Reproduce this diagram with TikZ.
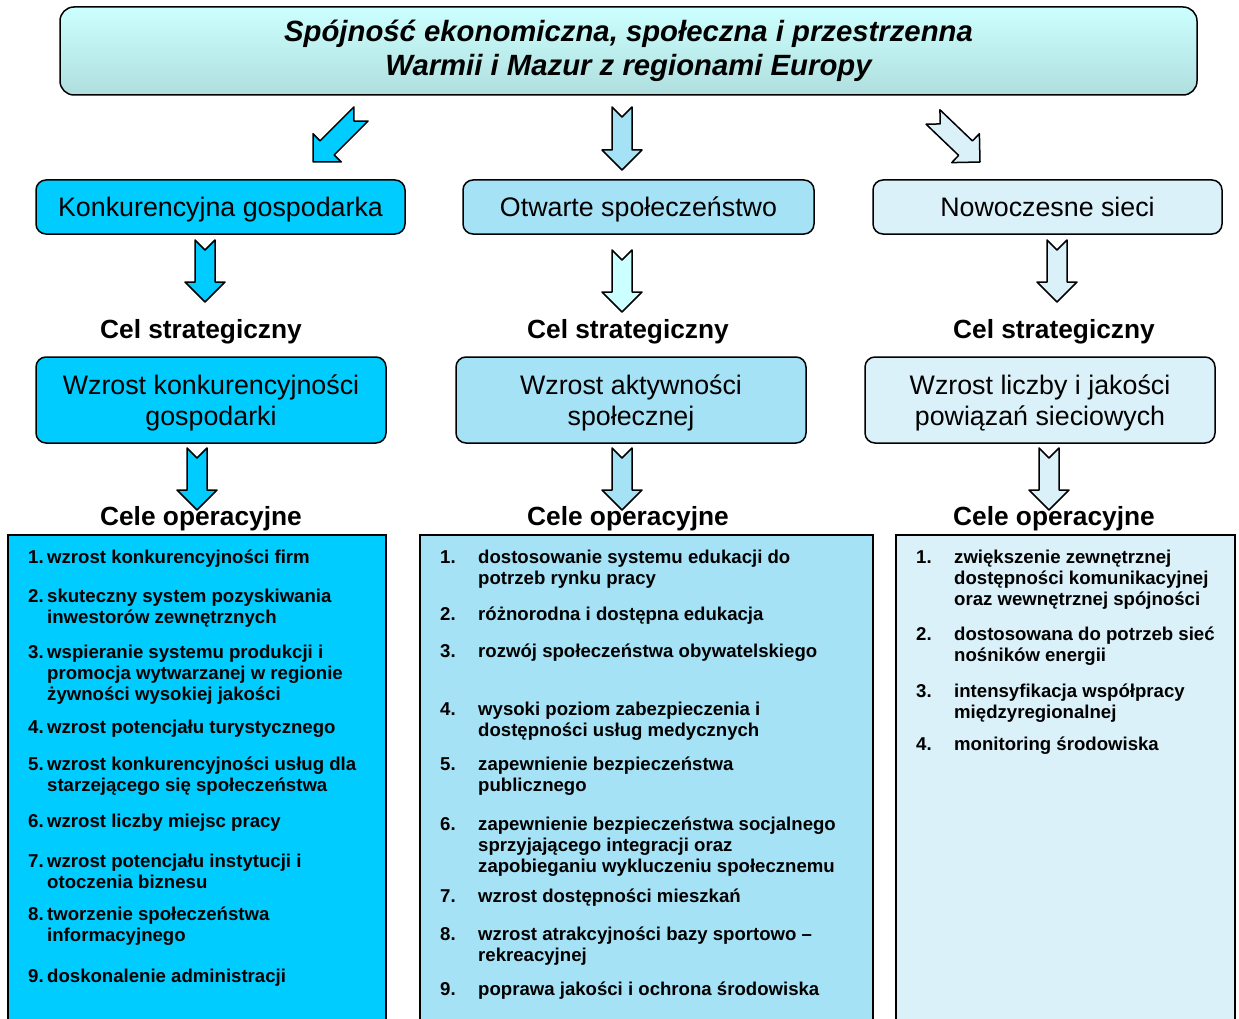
\documentclass[tikz,border=0pt]{standalone}
\usepackage{fontspec}
\setmainfont{Liberation Sans}
\usetikzlibrary{calc}
\definecolor{wmCyan}{RGB}{0, 204, 255}
\definecolor{wmMid}{RGB}{165, 226, 246}
\definecolor{wmLight}{RGB}{218, 241, 249}
\definecolor{wmPale}{RGB}{204, 255, 255}
\definecolor{wmTop}{RGB}{204, 255, 255}
\definecolor{wmBottom}{RGB}{176, 222, 222}
% block arrow: fill, tail coordinate, tip coordinate
\newcommand{\blockarrow}[3]{%
  \coordinate (ba-h) at ($(#3)!20pt!(#2)$);
  \coordinate (ba-n) at ($(#2)!10pt!(#3)$);
  \draw[blockarr, fill=#1] ($(#2)!10pt!90:(#3)$) -- ($(ba-h)!10pt!90:(#3)$)
    -- ($(ba-h)!20pt!90:(#3)$) -- (#3) -- ($(ba-h)!20pt!-90:(#3)$)
    -- ($(ba-h)!10pt!-90:(#3)$) -- ($(#2)!10pt!-90:(#3)$) -- (ba-n) -- cycle;
}
\tikzset{
    base/.style={
        font=\fontsize{26.8}{31}\selectfont,
        align=center,
        inner sep=0pt
    },
    headbox/.style={
        base,
        rectangle,
        rounded corners=14pt,
        draw=black,
        line width=1.5pt,
        top color=wmTop,
        bottom color=wmBottom,
        font=\fontsize{29.3}{34}\selectfont\bfseries\itshape
    },
    pillar/.style={
        base,
        rectangle,
        rounded corners=10pt,
        draw=black,
        line width=1.5pt
    },
    caption/.style={
        font=\fontsize{26.3}{30}\selectfont\bfseries,
        anchor=base,
        inner sep=0pt
    },
    goalbox/.style={
        rectangle,
        inner sep=0pt,
        minimum height=484pt
    },
    goal/.style={
        font=\fontsize{18.6}{21.3}\selectfont\bfseries,
        align=left,
        anchor=north west,
        inner sep=0pt
    },
    blockarr/.style={
        draw=black,
        line width=1.5pt,
        line join=round
    }
}
\begin{document}
\begin{tikzpicture}[x=1pt, y=-1pt]
  \useasboundingbox (0,0) rectangle (1239,1019);

  \node[headbox, minimum width=1137pt, minimum height=88pt] (title) at (628.5,51)
    {Spójność ekonomiczna, społeczna i przestrzenna\\Warmii i Mazur z regionami Europy};

  % first row of arrows
  \coordinate (a0l-s) at (361,114);  \coordinate (a0l-e) at (313,162);
  \coordinate (a0m-s) at (622,107);  \coordinate (a0m-e) at (622,170);
  \coordinate (a0r-s) at (933,117);  \coordinate (a0r-e) at (980,162);
  \blockarrow{wmCyan}{a0l-s}{a0l-e}
  \blockarrow{wmMid}{a0m-s}{a0m-e}
  \blockarrow{wmLight}{a0r-s}{a0r-e}

  \node[pillar, fill=wmCyan, minimum width=369pt, minimum height=54pt,
        text height=19pt, text depth=0pt] (kg) at (220.5,207) {Konkurencyjna gospodarka};
  \node[pillar, fill=wmMid, minimum width=351pt, minimum height=54pt,
        text height=19pt, text depth=0pt] (os) at (638.5,207) {Otwarte społeczeństwo};
  \node[pillar, fill=wmLight, minimum width=349pt, minimum height=54pt,
        text height=19pt, text depth=0pt] (ns) at (1047.5,207) {Nowoczesne sieci};

  \coordinate (a1l-s) at (205,240);  \coordinate (a1l-e) at (205,302);
  \coordinate (a1m-s) at (622,250);  \coordinate (a1m-e) at (622,312);
  \coordinate (a1r-s) at (1057,240); \coordinate (a1r-e) at (1057,302);
  \blockarrow{wmCyan}{a1l-s}{a1l-e}
  \blockarrow{wmPale}{a1m-s}{a1m-e}
  \blockarrow{wmLight}{a1r-s}{a1r-e}

  \node[caption] (cs1) at (201,338) {Cel strategiczny};
  \node[caption] (cs2) at (628,338) {Cel strategiczny};
  \node[caption] (cs3) at (1054,338) {Cel strategiczny};

  \node[pillar, fill=wmCyan, minimum width=350pt, minimum height=86pt,
        text depth=-2pt] (wk) at (211,400) {Wzrost konkurencyjności\\gospodarki};
  \node[pillar, fill=wmMid, minimum width=350pt, minimum height=86pt,
        text depth=-2pt] (wa) at (631,400) {Wzrost aktywności\\społecznej};
  \node[pillar, fill=wmLight, minimum width=350pt, minimum height=86pt,
        text depth=-2pt] (wl) at (1040,400) {Wzrost liczby i jakości\\powiązań sieciowych};

  \coordinate (a2l-s) at (197,448);  \coordinate (a2l-e) at (197,510);
  \coordinate (a2m-s) at (622,448);  \coordinate (a2m-e) at (622,510);
  \coordinate (a2r-s) at (1049,448); \coordinate (a2r-e) at (1049,510);
  \blockarrow{wmCyan}{a2l-s}{a2l-e}
  \blockarrow{wmMid}{a2m-s}{a2m-e}
  \blockarrow{wmLight}{a2r-s}{a2r-e}

  \node[caption] (co1) at (201,525) {Cele operacyjne};
  \node[caption] (co2) at (628,525) {Cele operacyjne};
  \node[caption] (co3) at (1054,525) {Cele operacyjne};

  % lists of operational goals
  \node[goalbox, fill=wmCyan, minimum width=378pt] (lc) at (197,777) {};
  \node[goalbox, fill=wmMid, minimum width=453pt] (lm) at (646.5,777) {};
  \node[goalbox, fill=wmLight, minimum width=339pt] (lr) at (1065.5,777) {};
  \draw[line width=1.5pt] (lc.south west) |- (lc.north east) -- (lc.south east);
  \draw[line width=1.5pt] (lm.south west) |- (lm.north east) -- (lm.south east);
  \draw[line width=1.5pt] (lr.south west) |- (lr.north east) -- (lr.south east);

  \foreach \n/\y/\t in {
      1/563/{wzrost konkurencyjności firm},
      2/602/{skuteczny system pozyskiwania\\inwestorów zewnętrznych},
      3/658/{wspieranie systemu produkcji i\\promocja wytwarzanej w regionie\\żywności wysokiej jakości},
      4/733/{wzrost potencjału turystycznego},
      5/770/{wzrost konkurencyjności usług dla\\starzejącego się społeczeństwa},
      6/827/{wzrost liczby miejsc pracy},
      7/867/{wzrost potencjału instytucji i\\otoczenia biznesu},
      8/920/{tworzenie społeczeństwa\\informacyjnego},
      9/982/{doskonalenie administracji}} {
    \node[goal] (lcn-\n) at (28,{\y-14.9}) {\strut\n.};
    \node[goal] (lc-\n) at (47,{\y-14.9}) {\strut\t};
  }

  \foreach \n/\y/\t in {
      1/563/{dostosowanie systemu edukacji do\\potrzeb rynku pracy},
      2/620/{różnorodna i dostępna edukacja},
      3/657/{rozwój społeczeństwa obywatelskiego},
      4/715/{wysoki poziom zabezpieczenia i\\dostępności usług medycznych},
      5/770/{zapewnienie bezpieczeństwa\\publicznego},
      6/830/{zapewnienie bezpieczeństwa socjalnego\\sprzyjającego integracji oraz\\zapobieganiu wykluczeniu społecznemu},
      7/902/{wzrost dostępności mieszkań},
      8/940/{wzrost atrakcyjności bazy sportowo –\\rekreacyjnej},
      9/995/{poprawa jakości i ochrona środowiska}} {
    \node[goal] (lmn-\n) at (440,{\y-14.9}) {\strut\n.};
    \node[goal] (lm-\n) at (478,{\y-14.9}) {\strut\t};
  }

  \foreach \n/\y/\t in {
      1/563/{zwiększenie zewnętrznej\\dostępności komunikacyjnej\\oraz wewnętrznej spójności},
      2/640/{dostosowana do potrzeb sieć\\nośników energii},
      3/697/{intensyfikacja współpracy\\międzyregionalnej},
      4/750/{monitoring środowiska}} {
    \node[goal] (lrn-\n) at (916,{\y-14.9}) {\strut\n.};
    \node[goal] (lr-\n) at (954,{\y-14.9}) {\strut\t};
  }
\end{tikzpicture}
\end{document}
